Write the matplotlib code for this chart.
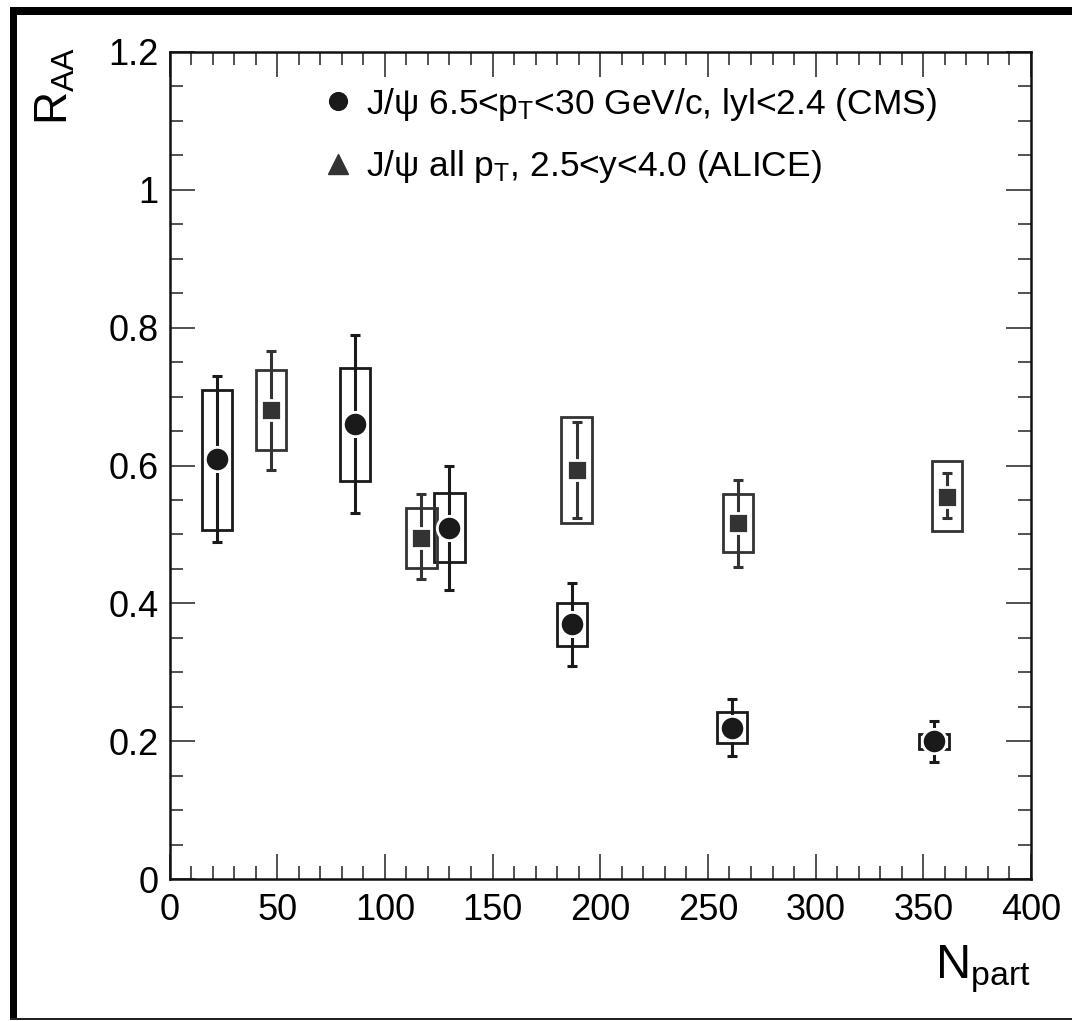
import numpy as np
import matplotlib
matplotlib.use('Agg')
import matplotlib.pyplot as plt
from matplotlib.patches import Rectangle
from matplotlib.lines import Line2D

# ── Fonts ─────────────────────────────────────────────────────────────────────
plt.rcParams['font.family'] = ['Liberation Sans', 'DejaVu Sans']
plt.rcParams['mathtext.fontset'] = 'custom'
plt.rcParams['mathtext.rm'] = 'Liberation Sans'
plt.rcParams['mathtext.it'] = 'Liberation Sans:italic'

# ── Data ──────────────────────────────────────────────────────────────────────
# CMS: J/psi 6.5<pT<30 GeV/c, |y|<2.4
cms_npart   = [22, 86, 130, 187, 261, 355]
cms_raa     = [0.61, 0.66, 0.51, 0.37, 0.22, 0.20]
cms_stat_lo = [0.489, 0.531, 0.420, 0.309, 0.179, 0.170]
cms_stat_hi = [0.730, 0.789, 0.599, 0.429, 0.261, 0.230]
cms_syst_lo = [0.507, 0.578, 0.460, 0.339, 0.198, 0.189]
cms_syst_hi = [0.709, 0.741, 0.560, 0.401, 0.242, 0.211]

# ALICE: J/psi all pT, 2.5<y<4.0
alice_npart   = [47, 117, 189, 264, 361]
alice_raa     = [0.681, 0.495, 0.593, 0.517, 0.555]
alice_stat_lo = [0.594, 0.436, 0.524, 0.453, 0.524]
alice_stat_hi = [0.766, 0.558, 0.663, 0.579, 0.589]
alice_syst_lo = [0.623, 0.452, 0.516, 0.474, 0.505]
alice_syst_hi = [0.738, 0.539, 0.671, 0.558, 0.606]

cms_label   = r'J/ψ 6.5<p$_{\mathrm{T}}$<30 GeV/c, lyl<2.4 (CMS)'
alice_label = r'J/ψ all p$_{\mathrm{T}}$, 2.5<y<4.0 (ALICE)'

yticks       = [0, 0.2, 0.4, 0.6, 0.8, 1.0, 1.2]
ytick_labels = ['0', '0.2', '0.4', '0.6', '0.8', '1', '1.2']
xticks       = [0, 50, 100, 150, 200, 250, 300, 350, 400]

# ── Style ─────────────────────────────────────────────────────────────────────
CMS_COL   = '#1a1a1a'
ALICE_COL = '#333333'
BOX_HALF  = 7.0   # half width of syst. boxes in Npart units

W, H = 1072, 1021
fig = plt.figure(figsize=(W / 100, H / 100), dpi=100)
ax = fig.add_axes([169.5 / W, 1 - 879.3 / H, (1031 - 169.5) / W, (879.3 - 51.7) / H])


def draw_set(x, y, lo, hi, slo, shi, col, marker, ms):
    x = np.asarray(x); y = np.asarray(y)
    for xi, a, b in zip(x, slo, shi):
        ax.add_patch(Rectangle((xi - BOX_HALF, a), 2 * BOX_HALF, b - a,
                               fill=False, ec=col, lw=2.0, zorder=2))
    yerr = [y - np.asarray(lo), np.asarray(hi) - y]
    ax.errorbar(x, y, yerr=yerr, fmt='none', ecolor=col, elinewidth=2.2,
                capsize=3.6, capthick=2.2, zorder=3)
    ax.plot(x, y, ls='none', marker=marker, ms=ms, mfc=col, mec='white',
            mew=2.0, zorder=4)


draw_set(cms_npart, cms_raa, cms_stat_lo, cms_stat_hi, cms_syst_lo, cms_syst_hi,
         CMS_COL, 'o', 17.5)
draw_set(alice_npart, alice_raa, alice_stat_lo, alice_stat_hi, alice_syst_lo,
         alice_syst_hi, ALICE_COL, 's', 14.5)

# ── Axes ──────────────────────────────────────────────────────────────────────
ax.set_xlim(0, 400)
ax.set_ylim(0, 1.2)
ax.set_xticks(xticks)
ax.set_xticklabels([str(v) for v in xticks])
ax.set_yticks(yticks)
ax.set_yticklabels(ytick_labels)
ax.set_xticks(np.arange(0, 401, 10), minor=True)
ax.set_yticks(np.arange(0, 1.2001, 0.05), minor=True)
ax.tick_params(which='both', direction='in', top=True, right=True, width=1.1,
               color='#222222')
ax.tick_params(which='major', length=18, labelsize=26)
ax.tick_params(which='minor', length=9.5)
ax.tick_params(axis='x', which='major', pad=10)
ax.tick_params(axis='y', which='major', pad=8)
for s in ax.spines.values():
    s.set_linewidth(1.8)
    s.set_color('#111111')

ax.text(1.0, -0.119, r'N$_{\mathrm{part}}$', transform=ax.transAxes,
        ha='right', va='baseline', fontsize=35)
ax.text(-0.158, 1.006, r'R$_{\mathrm{AA}}$', transform=ax.transAxes,
        ha='left', va='top', rotation=90, fontsize=33)

handles = [Line2D([], [], ls='none', marker='o', ms=12.8, color=CMS_COL),
           Line2D([], [], ls='none', marker='^', ms=14, color=ALICE_COL)]
ax.legend(handles, [cms_label, alice_label], loc='upper left',
          bbox_to_anchor=(0.175, 0.959), frameon=False, fontsize=25.5,
          handlelength=1.0, handletextpad=0.3, labelspacing=0.72,
          borderaxespad=0, borderpad=0)

# ── Outer frame ───────────────────────────────────────────────────────────────
fig.add_artist(Rectangle((10 / W, 1 - 1020 / H), 7 / W, (1020 - 7) / H,
                         transform=fig.transFigure, color='black', lw=0))
fig.add_artist(Rectangle((10 / W, 1 - 15 / H), (W - 10) / W, 8 / H,
                         transform=fig.transFigure, color='black', lw=0))
fig.add_artist(Rectangle((10 / W, 1 - 1020 / H), (W - 10) / W, 2 / H,
                         transform=fig.transFigure, color='#222222', lw=0))

fig.savefig('out.png', dpi=100)
